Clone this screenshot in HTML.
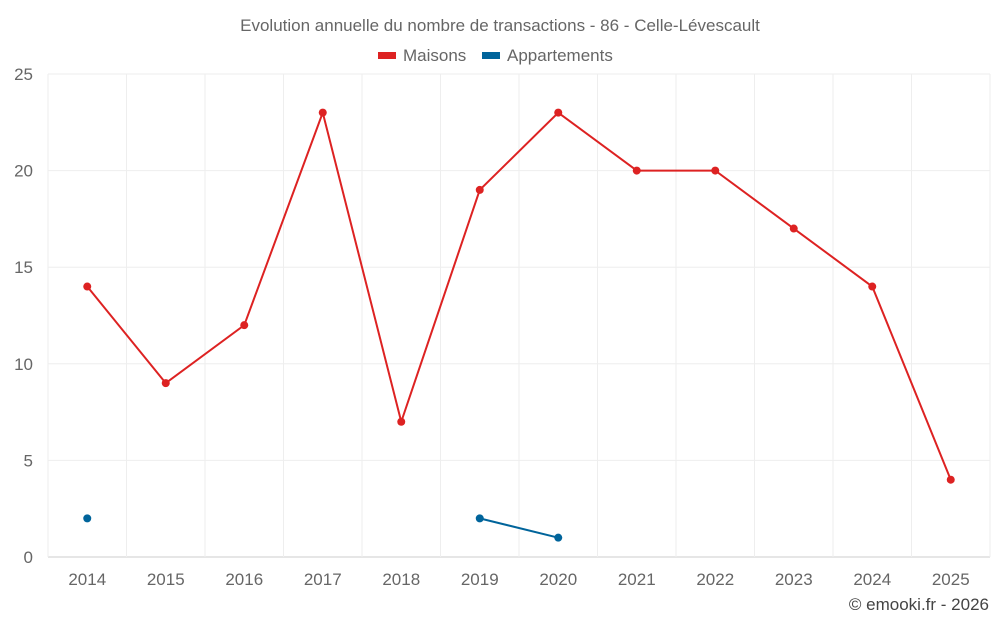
<!DOCTYPE html>
<html><head><meta charset="utf-8">
<style>
body{margin:0;background:#fff;font-family:"Liberation Sans",sans-serif;}
svg text{font-family:"Liberation Sans",sans-serif;}
</style></head>
<body>
<svg id="chart" width="1000" height="625" xmlns="http://www.w3.org/2000/svg">
<rect width="1000" height="625" fill="#fff"/>
<text x="500" y="31" text-anchor="middle" font-size="17" fill="#666">Evolution annuelle du nombre de transactions - 86 - Celle-Lévescault</text>
<g>
<g><rect x="378" y="52" width="18" height="7" fill="#dd2222"/><text x="403" y="61" font-size="17" fill="#666">Maisons</text></g>
<g><rect x="482" y="52" width="18" height="7" fill="#00649b"/><text x="507" y="61" font-size="17" fill="#666">Appartements</text></g>
</g>
<g id="grid"></g>
<g id="axes"></g>
<g id="series"></g>
<text x="989" y="610" text-anchor="end" font-size="17" fill="#444">© emooki.fr - 2026</text>
</svg>
<script>
const years=["2014","2015","2016","2017","2018","2019","2020","2021","2022","2023","2024","2025"];
const maisons=[14,9,12,23,7,19,23,20,20,17,14,4];
const appartements=[2,null,null,null,null,2,1,null,null,null,null,null];
const yTicks=[0,5,10,15,20,25];
const NS="http://www.w3.org/2000/svg";
const L=48,R=990,T=74,B=557,yMax=25;
const step=(R-L)/years.length;
const x=i=>L+step*(i+0.5);
const y=v=>B-(v/yMax)*(B-T);
function mk(tag,attrs,parent){const e=document.createElementNS(NS,tag);for(const k in attrs)e.setAttribute(k,attrs[k]);parent.appendChild(e);return e;}
const grid=document.getElementById('grid'),axes=document.getElementById('axes'),series=document.getElementById('series');
yTicks.forEach(t=>{
 const l=mk('line',{x1:L,x2:R,y1:y(t),y2:y(t),stroke:t===0?'#ccc':'#eee'},grid);
 
 
 const tx=mk('text',{x:33,y:y(t)+6,'text-anchor':'end','font-size':17,fill:'#666'},axes);
 tx.textContent=t;
 
 
});
for(let i=0;i<=years.length;i++){
 const l=mk('line',{x1:L+step*i,x2:L+step*i,y1:T,y2:B,stroke:'#eee'},grid);
 
 
}
years.forEach((yr,i)=>{
 const tx=mk('text',{x:x(i),y:585,'text-anchor':'middle','font-size':17,fill:'#666'},axes);
 tx.textContent=yr;
 
 
});
function draw(vals,color,name){
 let d='',pen=false;
 vals.forEach((v,i)=>{if(v==null){pen=false;return;}d+=(pen?'L':'M')+x(i)+' '+y(v)+' ';pen=true;});
 const p=mk('path',{d:d,fill:'none',stroke:color,'stroke-width':2},series);
 
 
 vals.forEach((v,i)=>{if(v==null)return;
  const c=mk('circle',{cx:x(i),cy:y(v),r:4,fill:color},series);
  
  
 });
}
draw(maisons,'#dd2222','maisons');
draw(appartements,'#00649b','appartements');
</script>
</body></html>
